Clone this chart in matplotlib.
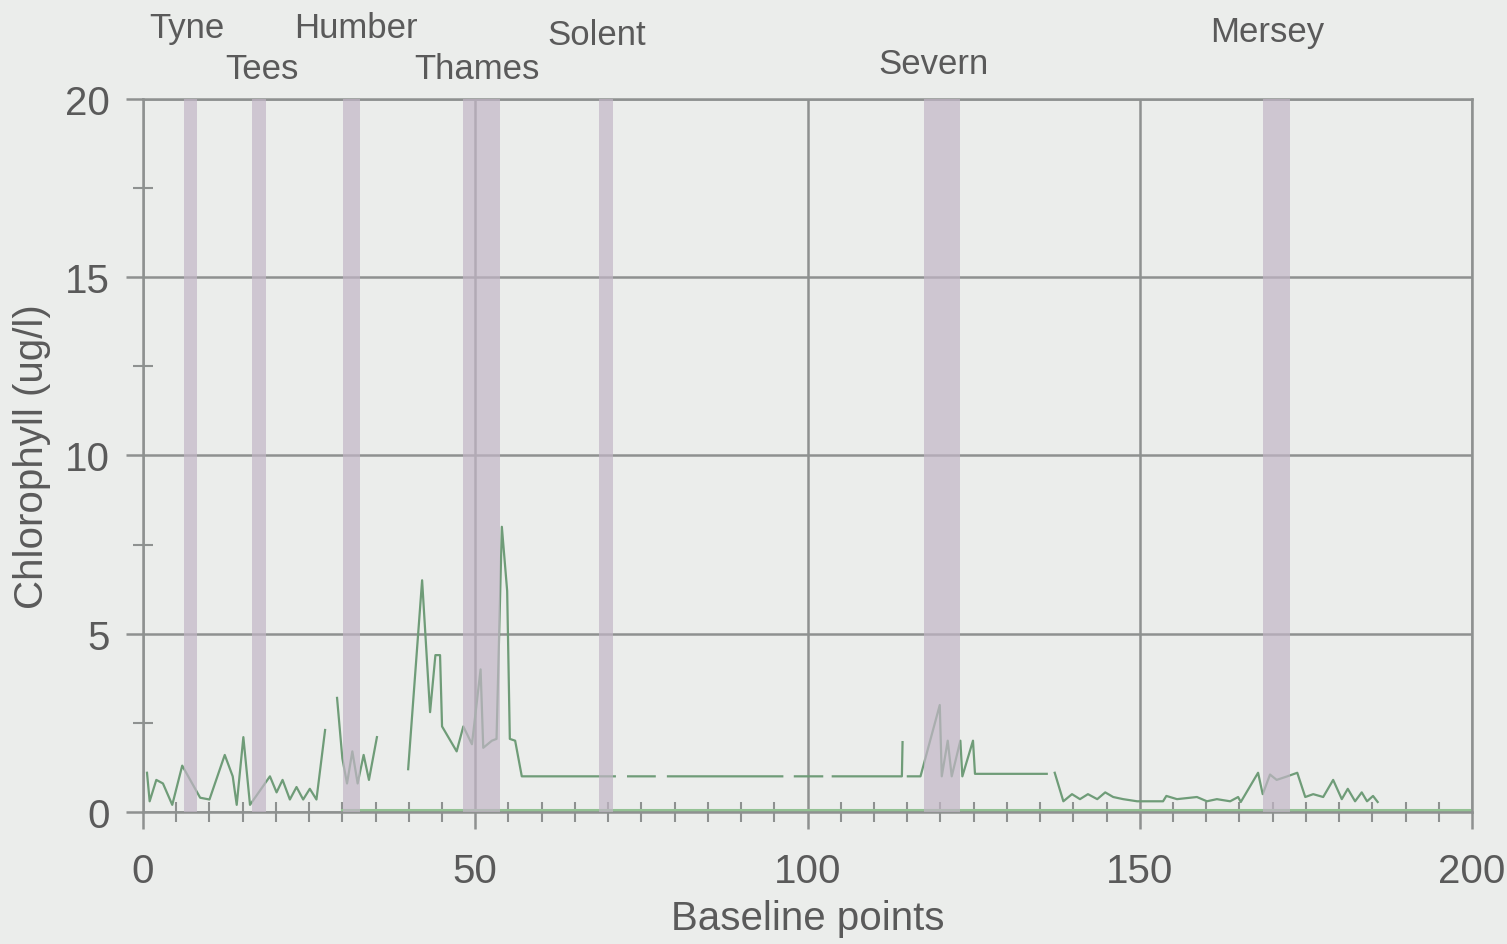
"""Chlorophyll along the baseline survey, with estuary bands."""

import numpy as np
from matplotlib import pyplot as plt

nan = np.nan

# estuary names, band limits (baseline points) and label heights
estuaries = ['Tyne', 'Tees', 'Humber', 'Thames', 'Solent', 'Severn', 'Mersey']
band_start = [6.2, 16.4, 30.1, 48.2, 68.6, 117.5, 168.5]
band_end = [8.1, 18.5, 32.7, 53.7, 70.7, 122.9, 172.6]
label_x = [6.6, 17.9, 32.0, 50.3, 68.2, 119.0, 169.1]
label_y = [22.0, 20.85, 22.0, 20.85, 21.8, 21.0, 21.9]

# chlorophyll (ug/l); nan marks breaks in the line
chl_x = [0.6, 1.0, 2.0, 3.0, 4.4, 5.9, 8.6, 10.0, 12.3, 13.5, 14.1, 15.1,
         16.1, 19.1, 20.1, 21.0, 22.1, 23.1, 24.1, 25.1, 26.1, 27.4, 28.0,
         29.2, 30.0, 30.7, 31.5, 32.3, 33.2, 34.0, 35.2, 36.0,
         39.9, 42.0, 43.2, 44.0, 44.7, 45.0, 47.2, 48.2, 49.5, 50.8, 51.2,
         52.5, 53.2, 54.0, 54.8, 55.2, 56.0, 57.0, 71.0, 72.0,
         73.0, 77.0, 78.0, 79.0, 96.2, 97.0, 98.1, 102.2, 103.0,
         103.8, 114.2, 114.3, 114.7,
         115.1, 117.0, 119.9, 120.2, 121.1, 121.7, 123.0, 123.3, 124.9,
         125.2, 136.0, 136.6,
         137.2, 138.5, 139.8, 141.0, 142.2, 143.6, 144.8, 146.0, 147.5,
         149.6, 153.5, 154.0, 155.6, 158.6, 160.1, 161.6, 163.6, 164.8,
         165.2, 167.8, 168.5, 169.6, 170.6, 172.2, 173.7, 174.9, 176.1,
         177.6, 179.1, 180.4, 181.3, 182.4, 183.4, 184.2, 185.1, 185.8]
chl_y = [1.1, 0.3, 0.9, 0.8, 0.2, 1.3, 0.4, 0.35, 1.6, 1.0, 0.2, 2.1,
         0.2, 1.0, 0.55, 0.9, 0.35, 0.7, 0.35, 0.65, 0.35, 2.3, nan,
         3.2, 1.5, 0.8, 1.7, 0.8, 1.6, 0.9, 2.1, nan,
         1.2, 6.5, 2.8, 4.4, 4.4, 2.4, 1.7, 2.4, 1.9, 4.0, 1.8,
         2.0, 2.05, 8.0, 6.2, 2.05, 2.0, 1.0, 1.0, nan,
         1.0, 1.0, nan, 1.0, 1.0, nan, 1.0, 1.0, nan,
         1.0, 1.0, 1.96, nan,
         1.0, 1.0, 3.0, 1.0, 2.0, 1.0, 2.0, 1.0, 2.0,
         1.07, 1.07, nan,
         1.1, 0.3, 0.5, 0.36, 0.5, 0.36, 0.55, 0.42, 0.36,
         0.3, 0.3, 0.45, 0.36, 0.42, 0.3, 0.36, 0.3, 0.42,
         0.28, 1.1, 0.5, 1.05, 0.9, 1.0, 1.1, 0.42, 0.5,
         0.42, 0.9, 0.36, 0.65, 0.3, 0.55, 0.3, 0.45, 0.28]

# flat baseline series along the bottom
base_x = [30, 200]
base_y = [0.05, 0.05]

BG = '#ebedeb'
TEXT = '#5a5a5a'
GRID = '#8e9190'


def plot_chlorophyll():
    """Draw the chart and save it."""
    plt.rcParams['font.family'] = ['Liberation Sans', 'DejaVu Sans']
    fig = plt.figure(figsize=(15.07, 9.45), dpi=100, facecolor=BG)
    ax = fig.add_axes([0.0949, 0.1397, 0.8819, 0.7545], facecolor=BG)

    ax.plot(base_x, base_y, color='#93c293', lw=2.2, zorder=2)
    ax.plot(chl_x, chl_y, color='#6f9c78', lw=1.6, zorder=2)
    for start, end in zip(band_start, band_end):
        ax.axvspan(start, end, color='#c2b6c6', alpha=0.7, lw=0, zorder=3)
    for name, x, y in zip(estuaries, label_x, label_y):
        ax.text(x, y, name, ha='center', va='center', fontsize=25,
                color=TEXT, clip_on=False)

    ax.set_xlim(0, 200)
    ax.set_ylim(0, 20)
    ax.set_xticks(np.arange(0, 201, 50))
    ax.set_yticks(np.arange(0, 21, 5))
    ax.set_xticks(np.arange(0, 201, 5), minor=True)
    ax.set_yticks(np.arange(2.5, 20, 5), minor=True)
    ax.grid(True, which='major', color=GRID, lw=1.8, zorder=1)
    ax.set_axisbelow(True)
    ax.tick_params(which='major', length=12, width=1.8, color=GRID,
                   labelsize=29, labelcolor=TEXT)
    ax.tick_params(axis='x', which='major', pad=17)
    ax.tick_params(axis='y', which='major', pad=12)
    ax.tick_params(which='minor', length=14, width=1.5, color=GRID,
                   direction='inout')
    for spine in ax.spines.values():
        spine.set_color(GRID)
        spine.set_linewidth(1.8)
    ax.set_xlabel('Baseline points', fontsize=29, color=TEXT, labelpad=6)
    ax.set_ylabel('Chlorophyll (ug/l)', fontsize=29, color=TEXT, labelpad=10)
    fig.savefig('out.png', dpi=100, facecolor=BG)


def main():
    """Plot."""
    plot_chlorophyll()


if __name__ == '__main__':
    main()
